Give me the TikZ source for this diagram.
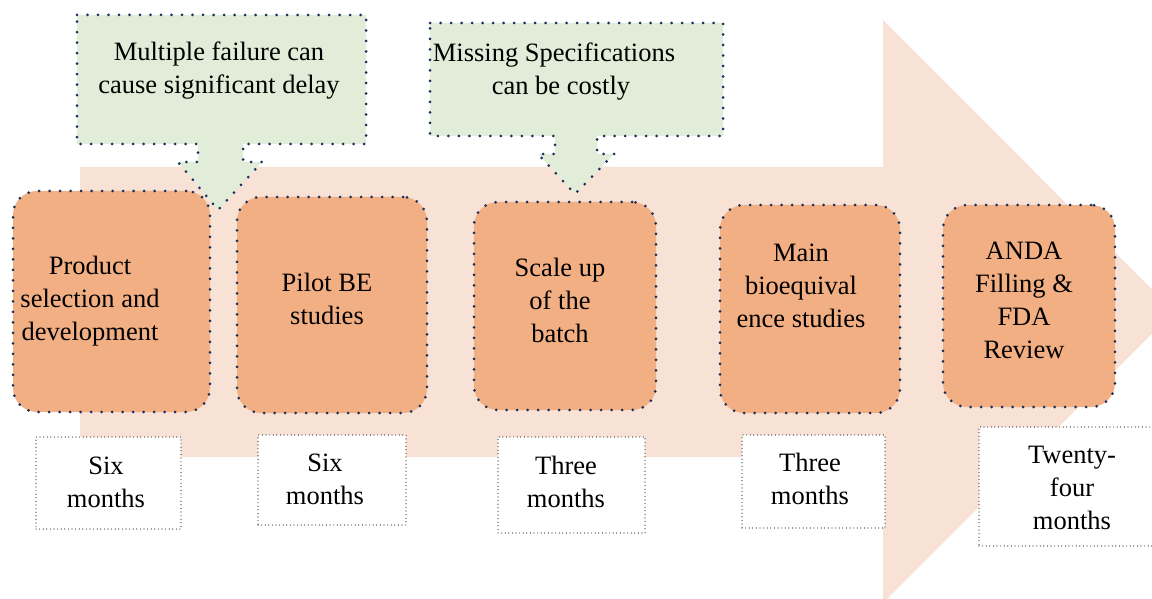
\documentclass[tikz,border=0pt]{standalone}
\usepackage{fontspec}
\setmainfont{Liberation Serif}
\definecolor{peach}{HTML}{F8E2D5}
\definecolor{stagefill}{HTML}{F3AF84}
\definecolor{notefill}{HTML}{E2EDD9}
\definecolor{navy}{HTML}{1B2F5A}
\begin{document}
\begin{tikzpicture}[x=1pt,y=-1pt,
  bluedots/.style={draw=navy,line width=3pt,line cap=round,dash pattern=on 0pt off 10.5pt},
  blackdots/.style={draw=black!85,line width=1.2pt,line cap=round,dash pattern=on 0pt off 3.6pt},
  stage/.style={bluedots,fill=stagefill,rounded corners=24pt,inner sep=0pt,rectangle},
  period/.style={blackdots,fill=white,inner sep=0pt,rectangle},
  txt/.style={font=\fontsize{26.5}{33}\selectfont,align=center,inner sep=0pt},
  note/.style={bluedots,fill=notefill,line join=miter}]
\useasboundingbox (0,0) rectangle (1152,599);

% big background arrow
\begin{scope}
  \clip (0,0) rectangle (1152,599);
  \fill[peach] (80,167) -- (883,167) -- (883,20) -- (1174,311.5)
    -- (883,603) -- (883,457) -- (80,457) -- cycle;
\end{scope}

% callouts
\path[note] (77,15) -- (366,15) -- (366,144) -- (243,144) -- (243,162)
  -- (262,162) -- (218,210) -- (178,162) -- (198,162) -- (198,144)
  -- (77,144) -- cycle;
\node[txt] (n1) at (219,71) {Multiple failure can\\cause significant delay};

\path[note] (430,23) -- (723,23) -- (723,136) -- (597,136) -- (597,154)
  -- (614,154) -- (575,194) -- (538,154) -- (555,154) -- (555,136)
  -- (430,136) -- cycle;
\node[txt] (n2) at (554,72) {Missing Specifications\\\hspace*{14pt}can be costly};

% stages
\node[stage,minimum width=197pt,minimum height=221pt] (s1) at (111.5,301.5) {};
\node[stage,minimum width=190pt,minimum height=216pt] (s2) at (332,305) {};
\node[stage,minimum width=182pt,minimum height=208pt] (s3) at (565,306) {};
\node[stage,minimum width=180pt,minimum height=208pt] (s4) at (810,309) {};
\node[stage,minimum width=172pt,minimum height=202pt] (s5) at (1029,306) {};

\node[txt] (t1) at (90,301) {Product\\selection and\\development};
\node[txt] (t2) at (327,298.5) {Pilot BE\\studies};
\node[txt] (t3) at (560,300) {Scale up\\of the\\batch};
\node[txt] (t4) at (801,286) {Main\\bioequival\\ence studies};
\node[txt] (t5) at (1024,300) {ANDA\\Filling \&\\FDA\\Review};

% durations
\node[period,minimum width=145pt,minimum height=92pt] (d1) at (108.5,483) {};
\node[period,minimum width=148pt,minimum height=90pt] (d2) at (332,480) {};
\node[period,minimum width=147pt,minimum height=96pt] (d3) at (571.5,485) {};
\node[period,minimum width=143pt,minimum height=93pt] (d4) at (813.5,481.5) {};
\node[period,minimum width=186pt,minimum height=119pt] (d5) at (1072,486.5) {};

\node[txt] (p1) at (106,482) {Six\\months};
\node[txt] (p2) at (325,479) {Six\\months};
\node[txt] (p3) at (566,482) {Three\\months};
\node[txt] (p4) at (810,479) {Three\\months};
\node[txt] (p5) at (1072,487.5) {Twenty-\\four\\months};
\end{tikzpicture}
\end{document}
